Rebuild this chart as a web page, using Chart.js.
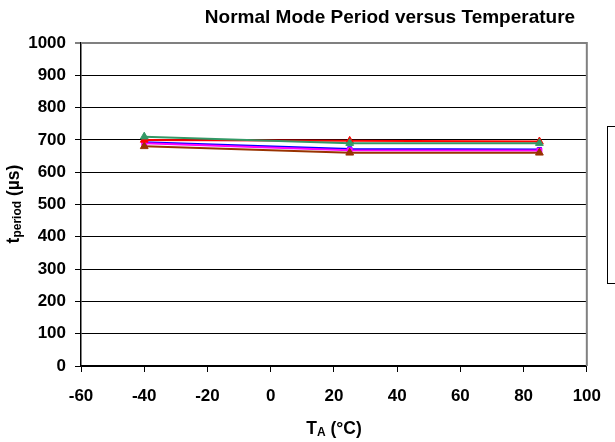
<!DOCTYPE html>
<html>
<head>
<meta charset="utf-8">
<script src="https://cdn.jsdelivr.net/npm/chart.js@4"></script>
<style>
  html, body { margin: 0; padding: 0; background: #fff; }
  #wrap { width: 615px; height: 442px; }
</style>
</head>
<body>
<div id="wrap"><canvas id="myChart" width="615" height="442"></canvas></div>
<script>
// temperatures (°C) and period readings (µs) per part
const temps = [-40, 25, 85];
const seriesRed = [700, 697, 695];
const seriesGreen = [710, 690, 690];
const seriesBlue = [693, 672, 670];
const seriesMagenta = [690, 668, 667];
const seriesBrown = [680, 660, 660];

const xTicks = [-60, -40, -20, 0, 20, 40, 60, 80, 100];
const yTicks = [0, 100, 200, 300, 400, 500, 600, 700, 800, 900, 1000];

const FONT = '"Liberation Sans", Arial, sans-serif';

function toPoints(vals) {
    return temps.map((t, i) => ({ x: t, y: vals[i] }));
}

function makeSet(vals, color, shape, r) {
    return {
        data: toPoints(vals),
        borderColor: color,
        backgroundColor: color,
        borderWidth: 2,
        pointStyle: shape,
        pointRadius: r,
        pointBorderWidth: 1,
        pointBorderColor: color,
        pointBackgroundColor: color,
        tension: 0
    };
}

// title, axis titles with subscripts, plot frame and the empty legend box
const decorations = {
    id: 'decorations',
    beforeDatasetsDraw(chart) {
        const ctx = chart.ctx;
        const a = chart.chartArea;
        ctx.save();
        ctx.strokeStyle = '#808080';
        ctx.lineWidth = 2;
        ctx.beginPath();
        ctx.moveTo(a.left, a.top);
        ctx.lineTo(a.right, a.top);
        ctx.lineTo(a.right, a.bottom);
        ctx.stroke();
        ctx.restore();
    },
    afterDraw(chart) {
        const ctx = chart.ctx;
        ctx.save();
        ctx.fillStyle = '#000';
        ctx.textBaseline = 'middle';

        // chart title
        ctx.font = 'bold 19px ' + FONT;
        ctx.textAlign = 'center';
        ctx.fillText('Normal Mode Period versus Temperature', 390, 18);

        // x axis title: T_A (°C)
        drawSub(ctx, 'T', 'A', ' (°C)', 334, 429);

        // y axis title: t_period (µs)
        ctx.translate(14, 204);
        ctx.rotate(-Math.PI / 2);
        drawSub(ctx, 't', 'period', ' (µs)', 0, 0);
        ctx.restore();

        // empty legend box
        ctx.save();
        ctx.strokeStyle = '#000';
        ctx.lineWidth = 1;
        ctx.strokeRect(607.5, 126.5, 30, 157);
        ctx.restore();
    }
};

function drawSub(ctx, main, sub, rest, cx, cy) {
    const big = 'bold 17.5px ' + FONT;
    const small = 'bold 12px ' + FONT;
    ctx.font = big;
    const w1 = ctx.measureText(main).width;
    const w3 = ctx.measureText(rest).width;
    ctx.font = small;
    const w2 = ctx.measureText(sub).width;
    let x = cx - (w1 + w2 + w3) / 2;
    ctx.textAlign = 'left';
    ctx.font = big;
    ctx.fillText(main, x, cy);
    x += w1;
    ctx.font = small;
    ctx.fillText(sub, x, cy + 4);
    x += w2;
    ctx.font = big;
    ctx.fillText(rest, x, cy);
}

new Chart(document.getElementById('myChart').getContext('2d'), {
    type: 'line',
    data: {
        datasets: [
            makeSet(seriesGreen, '#339966', 'triangle', 4.5),
            makeSet(seriesRed, '#FF0000', 'triangle', 4.5),
            makeSet(seriesBrown, '#993300', 'triangle', 4.5),
            makeSet(seriesMagenta, '#FF00FF', 'rect', 3.5),
            makeSet(seriesBlue, '#0000FF', 'rect', 3)
        ]
    },
    options: {
        responsive: false,
        animation: false,
        layout: { padding: { left: 0, top: 43, right: 28, bottom: 0 } },
        plugins: {
            legend: { display: false },
            title: { display: false },
            tooltip: { enabled: false }
        },
        scales: {
            x: {
                type: 'linear',
                min: xTicks[0],
                max: xTicks[xTicks.length - 1],
                afterFit: s => { s.height = 76; },
                afterBuildTicks: s => { s.ticks = xTicks.map(v => ({ value: v })); },
                grid: {
                    drawOnChartArea: false,
                    tickLength: 6,
                    color: '#000',
                    lineWidth: 1
                },
                border: { color: '#000', width: 1.5 },
                ticks: {
                    color: '#000',
                    padding: 14,
                    maxRotation: 0,
                    callback: v => String(v),
                    font: { family: FONT, size: 17, weight: 'bold' }
                }
            },
            y: {
                min: yTicks[0],
                max: yTicks[yTicks.length - 1],
                afterFit: s => { s.width = 81; },
                afterBuildTicks: s => { s.ticks = yTicks.map(v => ({ value: v })); },
                grid: {
                    tickLength: 6,
                    color: ctx => (ctx.tick && ctx.tick.value === 1000) ? '#808080' : '#000',
                    lineWidth: ctx => (ctx.tick && ctx.tick.value === 1000) ? 2 : 1
                },
                border: { color: '#000', width: 1.5 },
                ticks: {
                    color: '#000',
                    padding: 9,
                    callback: v => String(v),
                    font: { family: FONT, size: 17, weight: 'bold' }
                }
            }
        }
    },
    plugins: [decorations]
});
</script>
</body>
</html>
